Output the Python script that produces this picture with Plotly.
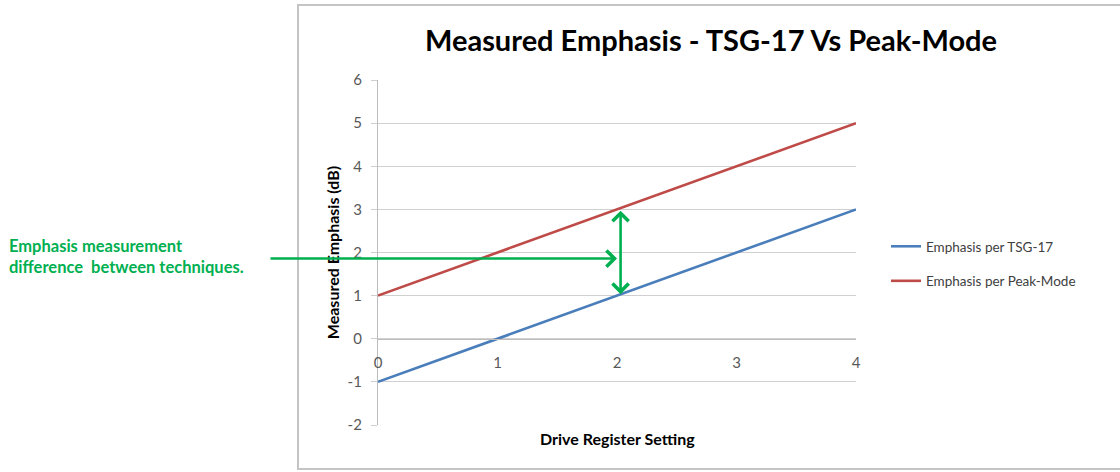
import plotly.graph_objects as go

# Data
drive_setting = [0, 1, 2, 3, 4]
tsg17 = [-1, 0, 1, 2, 3]
peak_mode = [1, 2, 3, 4, 5]
series_names = ["Emphasis per TSG-17", "Emphasis per Peak-Mode"]
y_ticks = [-2, -1, 0, 1, 2, 3, 4, 5, 6]
y_tick_labels = ["-2", "-1", "0", "1", "2", "3", "4", "5", "6"]
x_tick_labels = ["0", "1", "2", "3", "4"]

title_text = "Measured Emphasis - TSG-17 Vs Peak-Mode"
x_title = "Drive Register Setting"
y_title = "Measured Emphasis (dB)"
note_text = "Emphasis measurement<br>difference\u00a0 between techniques."

BLUE = "#4a7ebb"
RED = "#be4b48"
GREEN = "#00b050"
GRID = "#d0d0d0"
AXIS = "#bdbdbd"
FONT = "Lato, 'Open Sans', sans-serif"

fig = go.Figure()
fig.add_trace(go.Scatter(x=drive_setting, y=tsg17, mode="lines", name=series_names[0],
                         line=dict(color=BLUE, width=2.6), legendgroup="a"))
fig.add_trace(go.Scatter(x=drive_setting, y=peak_mode, mode="lines", name=series_names[1],
                         line=dict(color=RED, width=2.6), legendgroup="b"))

W, H = 1120, 472
L, R, T, B = 378, 264, 80, 47
pw, ph = W - L - R, H - T - B

def px(xpix):
    return (xpix - L) / pw

def py(ypix):
    return (H - B - ypix) / ph

yr = [-2, 6]
fig.update_layout(
    width=W, height=H,
    margin=dict(l=L, r=R, t=T, b=B),
    paper_bgcolor="white", plot_bgcolor="white",
    font=dict(family=FONT, color="#595959", size=12),
    title=dict(text=title_text, xref="container", x=711 / W, xanchor="center",
               yref="container", y=1 - 41 / H, yanchor="middle",
               font=dict(family=FONT, size=29, color="#000000", weight="bold")),
    showlegend=True,
    legend=dict(x=px(886), y=py(231), xanchor="left", yanchor="top",
                font=dict(family=FONT, size=13.5, color="#404040"),
                tracegroupgap=14, itemwidth=30, bgcolor="rgba(0,0,0,0)"),
    xaxis=dict(range=[0, 4], tickvals=drive_setting, ticktext=x_tick_labels,
               anchor="free", position=(0 - yr[0]) / (yr[1] - yr[0]),
               showline=True, linecolor=AXIS, linewidth=1.2,
               showgrid=False, zeroline=False,
               ticks="outside", ticklen=10, tickcolor="rgba(0,0,0,0)",
               tickfont=dict(family=FONT, size=15, color="#595959")),
    yaxis=dict(range=yr, tickvals=y_ticks, ticktext=y_tick_labels,
               showgrid=True, gridcolor=GRID, gridwidth=1,
               zeroline=False, showline=True, linecolor=AXIS, linewidth=1.2,
               ticks="outside", ticklen=6, tickcolor=GRID, ticklabelstandoff=6,
               tickfont=dict(family=FONT, size=15, color="#595959"),
               title=dict(text=y_title, standoff=4,
                          font=dict(family=FONT, size=16, color="#000000", weight="bold"))),
)

# x-axis title at the bottom of the plot frame
fig.add_annotation(text=x_title, xref="paper", yref="paper", x=0.5, y=py(439),
                   xanchor="center", yanchor="middle", showarrow=False,
                   font=dict(family=FONT, size=16, color="#000000", weight="bold"))

# Outer chart frame
fig.add_shape(type="rect", xref="paper", yref="paper",
              x0=px(298), x1=px(1130), y0=py(469), y1=py(5),
              line=dict(color="#c4c4c4", width=2), layer="below")

# Green note text
fig.add_annotation(text=note_text, xref="paper", yref="paper", x=px(7), y=py(256),
                   xanchor="left", yanchor="middle", align="left", showarrow=False,
                   font=dict(family=FONT, size=16.5, color=GREEN, weight="bold"))

# Horizontal arrow into the gap between the series
fig.add_annotation(x=2.0, y=1.86, xref="x", yref="y", axref="pixel", ayref="pixel",
                   ax=-(618 - 270), ay=0, showarrow=True, text="",
                   arrowhead=4, arrowsize=1.2, arrowwidth=2.6, arrowcolor=GREEN)

# Vertical double-headed arrow between the two series at x=2
fig.add_annotation(x=2.03, y=2.97, xref="x", yref="y", axref="x", ayref="y",
                   ax=2.03, ay=1.0, showarrow=True, text="",
                   arrowhead=4, startarrowhead=4, arrowside="end+start",
                   arrowsize=1.2, startarrowsize=1.2, arrowwidth=2.6, arrowcolor=GREEN)

fig.write_html("out.html")
